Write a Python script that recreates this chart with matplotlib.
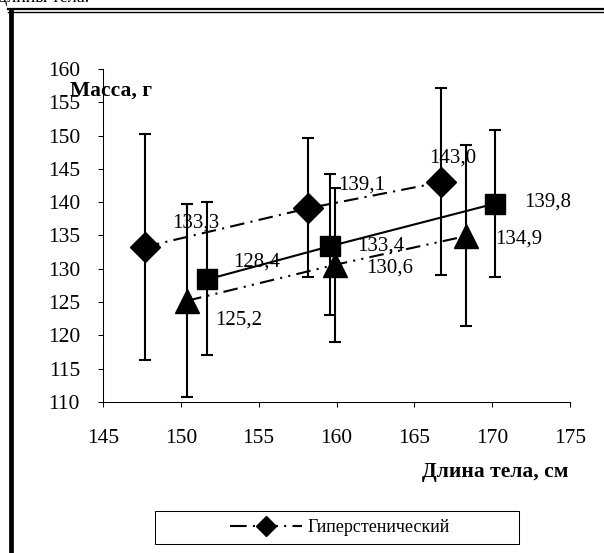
import numpy as np
import matplotlib
matplotlib.use("Agg")
import matplotlib.pyplot as plt
from matplotlib.patches import Rectangle
from matplotlib.lines import Line2D

plt.rcParams["font.family"] = ["Liberation Serif", "DejaVu Serif"]

# body length (cm), mass (g) and error bar limits
hyper_x = [147.7, 158.2, 166.7]
hyper_y = [133.3, 139.1, 143.0]
hyper_lo = [116.3, 128.7, 129.0]
hyper_hi = [150.3, 149.7, 157.2]
hyper_labels = ["133,3", "139,1", "143,0"]

sq_x = [151.7, 159.6, 170.2]
sq_y = [128.4, 133.4, 139.8]
sq_lo = [117.0, 123.0, 128.8]
sq_hi = [140.0, 144.2, 150.9]
sq_labels = ["128,4", "133,4", "139,8"]

tri_x = [150.4, 159.9, 168.3]
tri_y = [125.2, 130.6, 134.9]
tri_lo = [110.8, 119.0, 121.4]
tri_hi = [139.8, 142.2, 148.6]
tri_labels = ["125,2", "130,6", "134,9"]

x_ticks = [145, 150, 155, 160, 165, 170, 175]
y_ticks = [110, 115, 120, 125, 130, 135, 140, 145, 150, 155, 160]

W, H = 604, 553
fig = plt.figure(figsize=(W / 100, H / 100), dpi=100)
ax = fig.add_axes([103 / W, 1 - 402 / H, (570 - 103) / W, (402 - 69) / H])

lw = 1.5
series = [
    (hyper_x, hyper_y, hyper_lo, hyper_hi, "D", 15, (0, (7, 3, 1, 3)), hyper_labels,
     [(51, 24), (53, 23), (12, 24)]),
    (sq_x, sq_y, sq_lo, sq_hi, "s", 14, "-", sq_labels,
     [(49, 17), (51, 0), (52, 1)]),
    (tri_x, tri_y, tri_lo, tri_hi, "^", 17, (0, (7, 3, 1, 3, 1, 3)), tri_labels,
     [(52, -19), (55, -3), (53, -3)]),
]

for xs, ys, lo, hi, mk, ms, ls, labels, offs in series:
    ys_a = np.array(ys)
    yerr = [ys_a - np.array(lo), np.array(hi) - ys_a]
    ax.errorbar(xs, ys, yerr=yerr, fmt="none", ecolor="black", elinewidth=lw,
                capsize=4.3, capthick=lw, zorder=2)
    ax.plot(xs, ys, color="black", linewidth=lw, linestyle=ls, marker=mk,
            markersize=ms, markerfacecolor="black", markeredgecolor="black", zorder=3)
    for x, y, t, (dx, dy) in zip(xs, ys, labels, offs):
        ax.annotate(t, (x, y), xytext=(dx, dy), textcoords="offset pixels",
                    ha="center", va="center", fontsize=15, zorder=4)

ax.set_xlim(145, 175)
ax.set_ylim(110, 160)
ax.set_xticks(x_ticks)
ax.set_yticks(y_ticks)
ax.tick_params(direction="out", length=3.6, width=0.75, labelsize=15.5)
ax.tick_params(axis="x", pad=16)
ax.tick_params(axis="y", pad=13)
for s in ["top", "right"]:
    ax.spines[s].set_visible(False)
for s in ["left", "bottom"]:
    ax.spines[s].set_linewidth(0.75)

# axis titles placed like the original
fig.text(70 / W, 1 - 91 / H, "Масса, г", fontsize=15.5, fontweight="bold",
         ha="left", va="center")
fig.text(568 / W, 1 - 472 / H, "Длина тела, см", fontsize=15.5, fontweight="bold",
         ha="right", va="center")

# legend box
fig.add_artist(Rectangle((155 / W, 1 - 544 / H), (519 - 155) / W, (544 - 511) / H,
                         transform=fig.transFigure, facecolor="white",
                         edgecolor="black", linewidth=0.75))
handle = Line2D([], [], color="black", linewidth=lw, linestyle=(0, (8, 3, 1, 3)),
                marker="D", markersize=10)
fig.legend([handle], ["Гиперстенический"], loc="center",
           bbox_to_anchor=(340 / W, 1 - 527.5 / H), frameon=False,
           fontsize=13, handlelength=4, handletextpad=0.3)

# page frame around the chart
fig.add_artist(Line2D([8 / W, 1], [1 - 8.5 / H] * 2, transform=fig.transFigure,
                      color="black", linewidth=1.6))
fig.add_artist(Line2D([8 / W, 1], [1 - 11.8 / H] * 2, transform=fig.transFigure,
                      color="black", linewidth=1.0))
fig.add_artist(Line2D([10.5 / W] * 2, [0, 1 - 11 / H], transform=fig.transFigure,
                      color="black", linewidth=3.4))

# cut-off text from the page above
fig.text(-2 / W, 1 + 2 / H, "длины тела.", fontsize=13, ha="left", va="center")

fig.savefig("out.png", dpi=100)
